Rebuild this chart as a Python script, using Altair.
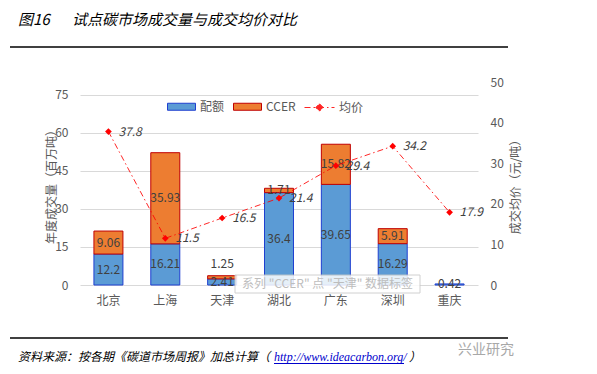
import altair as alt
import pandas as pd

cities = ["北京", "上海", "天津", "湖北", "广东", "深圳", "重庆"]
quota = [12.2, 16.21, 2.41, 36.4, 39.65, 16.29, 0.42]
ccer = [9.06, 35.93, 1.25, 1.71, 15.82, 5.91, 0.0]
price = [37.8, 11.5, 16.5, 21.4, 29.4, 34.2, 17.9]
series_names = ["配额", "CCER"]
left_ticks = [0, 15, 30, 45, 60, 75]
right_ticks = [0, 10, 20, 30, 40, 50]

title_no = "图16"
title_text = "试点碳市场成交量与成交均价对比"
source_text = "资料来源：按各期《碳道市场周报》加总计算（"
source_link = "http://www.ideacarbon.org/"
source_end = "）"
tooltip_text = "系列 \"CCER\" 点 \"天津\" 数据标签"
brand_text = "兴业研究"

FONT = "Noto Sans CJK SC"
GRAY = "#595959"
DARK = "#404040"

rows = []
for i, c in enumerate(cities):
    rows.append(dict(city=c, series="配额", start=0.0, end=quota[i], value=quota[i]))
    if ccer[i] > 0:
        rows.append(dict(city=c, series="CCER", start=quota[i], end=quota[i] + ccer[i], value=ccer[i]))
bars_df = pd.DataFrame(rows)
bars_df["mid"] = (bars_df["start"] + bars_df["end"]) / 2
bars_df["label"] = bars_df["value"].map(lambda v: f"{v:g}")
bars_df["outside"] = (bars_df["city"] == "天津") & (bars_df["series"] == "CCER")
in_df = bars_df[~bars_df["outside"]]
out_df = bars_df[bars_df["outside"]]

price_df = pd.DataFrame({"city": cities, "price": price, "k": ["均价"] * len(cities)})
price_df["label"] = price_df["price"].map(lambda v: f"{v:g}")

x_enc = alt.X(
    "city:N", sort=cities, title=None,
    scale=alt.Scale(paddingInner=0.49, paddingOuter=0.245),
    axis=alt.Axis(labelAngle=0, ticks=False, domain=False, labelPadding=10, grid=False),
)

bar_legend = alt.Legend(
    orient="none", legendX=87, legendY=10, direction="horizontal", title=None,
    symbolType="M-1,-0.25H1V0.25H-1Z", symbolSize=784, symbolStrokeWidth=1,
    columnPadding=6, labelOffset=4,
)

bars = alt.Chart(bars_df).mark_bar(strokeWidth=1).encode(
    x=x_enc,
    y=alt.Y("start:Q", scale=alt.Scale(domain=[0, 75]),
            axis=alt.Axis(values=left_ticks, title="年度成交量（百万吨）", ticks=False, domain=False,
                          labelPadding=12, grid=True, gridColor="#D9D9D9", titleX=-22, titleY=101.5,
                          titleAngle=270)),
    y2="end:Q",
    color=alt.Color("series:N", scale=alt.Scale(domain=series_names, range=["#5B9BD5", "#ED7D31"]),
                    legend=bar_legend),
    stroke=alt.Stroke("series:N", scale=alt.Scale(domain=series_names, range=["#1F3FD0", "#C00000"]),
                      legend=bar_legend),
)

bar_labels = alt.Chart(in_df).mark_text(fontSize=12, color=DARK, baseline="middle", font=FONT).encode(
    x=x_enc, y=alt.Y("mid:Q"), text="label:N")
bar_labels_out = alt.Chart(out_df).mark_text(fontSize=12, color=DARK, baseline="middle", dy=-12, font=FONT).encode(
    x=x_enc, y=alt.Y("end:Q"), text="label:N")

left = alt.layer(bars, bar_labels, bar_labels_out)

y_right = alt.Y("price:Q", scale=alt.Scale(domain=[0, 50]),
                axis=alt.Axis(orient="right", values=right_ticks, title="成交均价（元/吨）", ticks=False,
                              domain=False, labelPadding=12, grid=False, titleAngle=270,
                              titleX=44, titleY=101.5))

line = alt.Chart(price_df).mark_line(color="#FF0000", strokeWidth=1, opacity=0.85).encode(
    x=x_enc, y=y_right,
    strokeDash=alt.StrokeDash("k:N", scale=alt.Scale(domain=["均价"], range=[[6, 3, 1.5, 3]]),
                              legend=alt.Legend(orient="none", legendX=224, legendY=10, title=None,
                                                symbolType="M-1,0H1M0,-0.25L0.25,0L0,0.25L-0.25,0Z",
                                                symbolSize=900, symbolStrokeColor="#FF0000",
                                                symbolFillColor="#FF0000", symbolStrokeWidth=1,
                                                labelOffset=4)),
)
points = alt.Chart(price_df).mark_point(shape="diamond", filled=True, size=45, color="#FF0000", opacity=1).encode(
    x=x_enc, y=y_right)
price_labels = alt.Chart(price_df).mark_text(align="left", dx=10, fontSize=12, fontStyle="italic",
                                             color=DARK, font=FONT).encode(
    x=x_enc, y=y_right, text="label:N")

right = alt.layer(line, points, price_labels)


def txt(t, x, y, **kw):
    return alt.Chart(pd.DataFrame({"t": [t]})).mark_text(**kw).encode(
        text="t:N", x=alt.value(x), y=alt.value(y))


def hrule(x1, x2, y, color, w):
    return alt.Chart(pd.DataFrame({"a": [0]})).mark_rule(color=color, strokeWidth=w).encode(
        x=alt.value(x1), x2=alt.value(x2), y=alt.value(y))


tip_box = alt.Chart(pd.DataFrame({"a": [0]})).mark_rect(
    fill="white", stroke="#C8C8C8", strokeWidth=1, opacity=0.85).encode(
    x=alt.value(155), x2=alt.value(340), y=alt.value(193), y2=alt.value(211))

decor = [
    txt(title_no, -62, -62, align="left", baseline="middle", fontSize=15, fontStyle="italic",
        color="black", font=FONT),
    txt(title_text, -8, -62, align="left", baseline="middle", fontSize=15, fontStyle="italic",
        color="black", font=FONT),
    hrule(-70, 428, -35, "black", 1.5),
    hrule(-70, 428, 256, "black", 1.5),
    txt(source_text, -62, 275, align="left", baseline="middle", fontSize=12, fontStyle="italic",
        color="black", font=FONT),
    txt(source_link, 194, 275, align="left", baseline="middle", fontSize=12, fontStyle="italic",
        color="#0000CC", font="Liberation Serif"),
    hrule(194, 324, 281.5, "#0000CC", 1),
    txt(source_end, 329, 275, align="left", baseline="middle", fontSize=12, fontStyle="italic",
        color="black", font=FONT),
    txt(brand_text, 378, 268, align="left", baseline="middle", fontSize=14, color="#A8A8A8", font=FONT),
    tip_box,
    txt(tooltip_text, 247.5, 202, align="center", baseline="middle", fontSize=12, color="#BDBDBD",
        font=FONT),
]

chart = alt.layer(left, right, *decor).resolve_scale(y="independent").properties(
    width=398, height=203,
    autosize=alt.AutoSizeParams(type="none"),
    padding={"left": 72, "top": 74, "right": 111, "bottom": 80},
).configure_view(stroke=None).configure_axis(
    labelFont=FONT, titleFont=FONT, labelFontSize=12, titleFontSize=12,
    labelColor=GRAY, titleColor=GRAY, titleFontWeight="normal",
).configure_legend(
    labelFont=FONT, labelFontSize=12, labelColor=GRAY,
)

chart.save("out.html", embed_options={"renderer": "svg", "actions": False})
